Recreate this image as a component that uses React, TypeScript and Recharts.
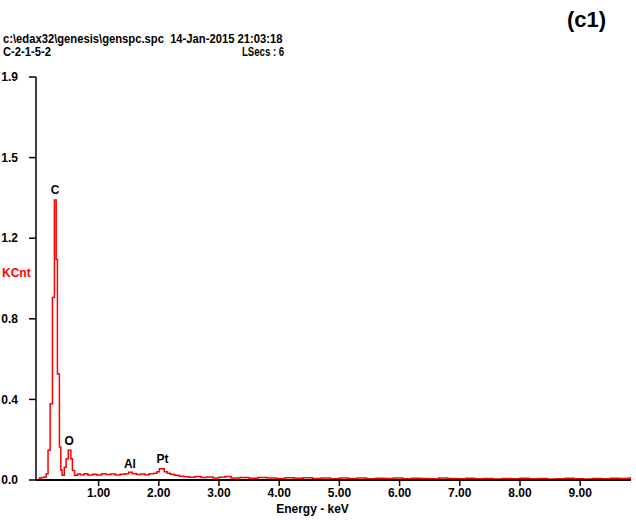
import React from 'react';
import { LineChart, Line, XAxis, YAxis, ReferenceDot } from 'recharts';

// Energy (keV) and counts (KCnt)
const energyKeV = [
  0.0, 0.05, 0.1, 0.13, 0.16, 0.195, 0.233, 0.266, 0.295, 0.316, 0.349, 0.372, 0.394,
  0.43, 0.46, 0.495, 0.54, 0.565, 0.6, 0.65, 0.7, 0.76, 0.82, 0.9, 0.97, 1.05, 1.12,
  1.2, 1.28, 1.36, 1.44, 1.5, 1.56, 1.63, 1.7, 1.77, 1.84, 1.92, 1.97, 2.01, 2.09,
  2.14, 2.19, 2.26, 2.34, 2.42, 2.5, 2.6, 2.7, 2.8, 2.9, 3.0, 3.1, 3.2, 3.35, 3.5,
  3.65, 3.8, 3.95, 4.1, 4.25, 4.4, 4.55, 4.7, 4.85, 5.0, 5.15, 5.3, 5.45, 5.6, 5.75,
  5.9, 6.05, 6.2, 6.35, 6.5, 6.65, 6.8, 6.95, 7.1, 7.25, 7.4, 7.55, 7.7, 7.85, 8.0,
  8.15, 8.3, 8.45, 8.6, 8.75, 8.9, 9.05, 9.2, 9.35, 9.5, 9.65, 9.8, 9.85,
];
const kcnt = [
  0.01, 0.012, 0.014, 0.03, 0.14, 0.36, 0.86, 1.32, 1.04, 0.5, 0.155, 0.047, 0.022,
  0.06, 0.1, 0.14, 0.1, 0.045, 0.022, 0.028, 0.025, 0.03, 0.024, 0.027, 0.024, 0.03, 0.026,
  0.028, 0.024, 0.027, 0.03, 0.036, 0.03, 0.026, 0.028, 0.025, 0.03, 0.032, 0.039, 0.053, 0.039,
  0.032, 0.027, 0.022, 0.018, 0.015, 0.013, 0.017, 0.012, 0.014, 0.01, 0.013, 0.016, 0.009, 0.012, 0.008,
  0.012, 0.009, 0.007, 0.011, 0.008, 0.011, 0.007, 0.01, 0.006, 0.01, 0.007, 0.009, 0.006, 0.008, 0.007,
  0.009, 0.006, 0.008, 0.007, 0.006, 0.009, 0.007, 0.006, 0.008, 0.006, 0.007, 0.005, 0.007, 0.006, 0.008,
  0.006, 0.007, 0.005, 0.006, 0.008, 0.006, 0.005, 0.007, 0.006, 0.008, 0.007, 0.009, 0.007,
];

const xTicks = [1, 2, 3, 4, 5, 6, 7, 8, 9];
const yTicks = [0, 0.38, 0.76, 1.14, 1.52, 1.9];
const yTickLabels = ['0.0', '0.4', '0.8', '1.2', '1.5', '1.9'];

const peakNames = ['C', 'O', 'Al', 'Pt'];
const peakEnergy = [0.277, 0.51, 1.52, 2.06];
const peakLabelLevel = [1.367, 0.184, 0.075, 0.099];

const data = energyKeV.map((e, i) => ({ e, c: kcnt[i] }));

const FONT = '"Liberation Sans", Arial, sans-serif';

const tickStyle = { fill: '#000', fontSize: 12, fontWeight: 700, fontFamily: FONT };

const headerStyle: React.CSSProperties = {
  position: 'absolute',
  fontFamily: FONT,
  fontWeight: 700,
  fontSize: 12,
  lineHeight: '13px',
  whiteSpace: 'pre',
  color: '#000',
  transform: 'scaleX(0.935)',
  transformOrigin: 'left center',
};

export default function App() {
  return (
    <div
      style={{
        position: 'absolute',
        left: 0,
        top: 0,
        width: 636,
        height: 520,
        overflow: 'hidden',
        background: '#fff',
      }}
    >
      <div style={{ ...headerStyle, left: 3, top: 33 }}>
        {'c:\\edax32\\genesis\\genspc.spc  14-Jan-2015 21:03:18'}
      </div>
      <div style={{ ...headerStyle, left: 3, top: 46 }}>C-2-1-5-2</div>
      <div style={{ ...headerStyle, left: 242, top: 46, transform: 'scaleX(0.8)' }}>{'LSecs : 6'}</div>
      <div
        style={{
          position: 'absolute', left: 567, top: 7, fontFamily: FONT, fontWeight: 700,
          fontSize: 22, lineHeight: '26px', color: '#000',
        }}
      >
        (c1)
      </div>
      <div
        style={{
          position: 'absolute', left: 2, top: 266, fontFamily: FONT, fontWeight: 700,
          fontSize: 12, lineHeight: '14px', color: '#ff0000',
        }}
      >
        KCnt
      </div>
      <LineChart
        width={636}
        height={520}
        data={data}
        margin={{ top: 77, right: 5, bottom: 0, left: 0 }}
        style={{ position: 'absolute', left: 0, top: 0 }}
      >
        <XAxis
          dataKey="e"
          type="number"
          domain={[-0.04, 9.844]}
          allowDataOverflow
          ticks={xTicks}
          tickFormatter={(v: number) => v.toFixed(2)}
          height={40}
          tickSize={6}
          tickMargin={2}
          stroke="#000"
          strokeWidth={2}
          tick={tickStyle}
          tickLine={{ stroke: '#000', strokeWidth: 1.5 }}
          label={{
            value: 'Energy - keV',
            position: 'insideBottom',
            offset: 7,
            dx: -21,
            style: { fill: '#000', fontSize: 12, fontWeight: 700, fontFamily: FONT },
          }}
        />
        <YAxis
          type="number"
          domain={[0, 1.9]}
          ticks={yTicks}
          tickFormatter={(v: number) => {
            const i = yTicks.findIndex((t) => Math.abs(t - v) < 1e-6);
            return i >= 0 ? yTickLabels[i] : '';
          }}
          width={36}
          tickSize={7}
          tickMargin={11}
          stroke="#000"
          strokeWidth={1.5}
          tick={tickStyle}
          tickLine={{ stroke: '#000', strokeWidth: 1.5 }}
        />
        <Line
          type="stepAfter"
          dataKey="c"
          stroke="#ff0000"
          strokeWidth={1.5}
          dot={false}
          isAnimationActive={false}
        />
        {peakNames.map((n, i) => (
          <ReferenceDot
            key={n}
            x={peakEnergy[i]}
            y={peakLabelLevel[i]}
            r={0}
            fill="none"
            stroke="none"
            label={{
              value: n,
              position: 'center',
              style: { fill: '#000', fontSize: 12, fontWeight: 700, fontFamily: FONT },
            }}
          />
        ))}
      </LineChart>
    </div>
  );
}
